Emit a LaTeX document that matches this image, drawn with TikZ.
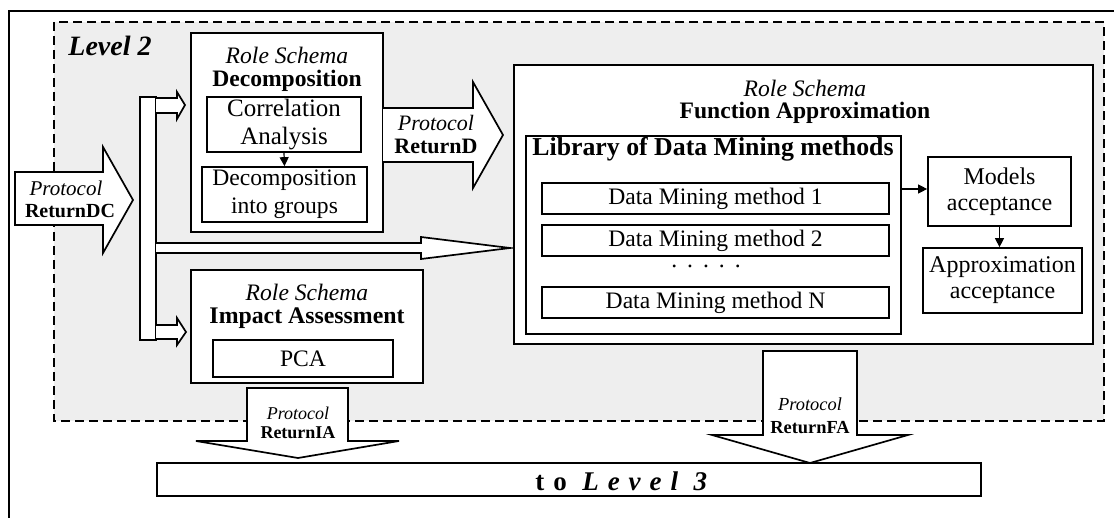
\documentclass[tikz,border=0pt]{standalone}
\usepackage{fontspec}
\setmainfont{Liberation Serif}
\usetikzlibrary{arrows.meta}
\definecolor{bggray}{RGB}{238,238,238}
\newcommand\myfs[2]{\fontsize{#1pt}{#2pt}\selectfont}
\begin{document}
\begin{tikzpicture}[x=0.5pt,y=-0.5pt,
  box/.style={draw, line width=0.85pt, fill=white, inner sep=0pt},
  blk/.style={draw, line width=0.85pt, fill=white, line join=miter},
  lbl/.style={inner sep=0pt, align=center},
  conn/.style={line width=0.6pt, -{Triangle[length=4.5pt,width=4.5pt]}}]
\useasboundingbox (0,0) rectangle (1114,518);
% outer frame (left and top visible)
\draw[line width=1.1pt] (9,519) -- (9,11) -- (1115,11);
% level 2 region
\draw[dashed, dash pattern=on 4.5pt off 2.5pt, line width=0.8pt, fill=bggray] (54,22) rectangle (1104,421);
\node[lbl, anchor=west, font=\myfs{14}{16}\bfseries\itshape] (lv2) at (68,46) {Level 2};

% ReturnDC block arrow
\draw[blk] (15,172) -- (103,172) -- (103,147) -- (133,200) -- (103,253) -- (103,225) -- (15,225) -- cycle;
\node[lbl, font=\myfs{10.5}{12}\itshape] (pdc) at (66,188) {Protocol};
\node[lbl, font=\myfs{10}{12}\bfseries] (rdc) at (70,211) {ReturnDC};

% distribution bar
\draw[blk] (140,97) rectangle (156,340);
\draw[blk] (156,98) -- (177,98) -- (177,92) -- (185,105) -- (177,119) -- (177,113) -- (156,113);
\draw[blk] (156,325) -- (177,325) -- (177,318) -- (186,332) -- (177,345) -- (177,339) -- (156,339);
\draw[blk] (156,243) -- (421,243) -- (421,237) -- (510,248) -- (421,259) -- (421,253) -- (156,253);

% Decomposition role schema
\node[box, minimum width=96pt, minimum height=99.5pt] (decomp) at (287,132.5) {};
\node[lbl, font=\myfs{11.8}{14}\itshape] (decrs) at (287,55) {Role Schema};
\node[lbl, font=\myfs{11.8}{14}\bfseries] (dect) at (287,81) {Decomposition};
\node[box, minimum width=77pt, minimum height=27.5pt, align=center, font=\myfs{12.5}{14}] (corr) at (284,124.5) {Correlation\\Analysis};
\node[box, minimum width=82.5pt, minimum height=27.5pt, align=center, font=\myfs{11.8}{14}] (dgr) at (284.5,194.5) {Decomposition\\into groups};
\draw[conn] (corr.south) -- (dgr.north);

% ReturnD block arrow
\draw[blk] (383,108) -- (473,108) -- (473,82) -- (503,135) -- (473,188) -- (473,162) -- (383,162);
\node[lbl, font=\myfs{11}{13}\itshape] (pd) at (436,123) {Protocol};
\node[lbl, font=\myfs{11}{13}\bfseries] (rd) at (436,146) {ReturnD};

% Impact assessment role schema
\node[box, minimum width=116pt, minimum height=56.5pt] (impact) at (307,326.5) {};
\node[lbl, font=\myfs{11.8}{14}\itshape] (imrs) at (307,292) {Role Schema};
\node[lbl, font=\myfs{11.9}{14}\bfseries] (imt) at (307,318) {Impact Assessment};
\node[box, minimum width=90pt, minimum height=18.5pt, font=\myfs{11.8}{14}] (pca) at (303,358.5) {PCA};

% Function approximation role schema
\node[box, minimum width=289.5pt, minimum height=139.5pt] (fa) at (803.5,204.5) {};
\node[lbl, font=\myfs{11.8}{14}\itshape] (fars) at (805,88) {Role Schema};
\node[lbl, font=\myfs{11.8}{14}\bfseries] (fat) at (805,113) {Function Approximation};
\node[box, minimum width=187.5pt, minimum height=99pt] (lib) at (713.5,235) {};
\node[lbl, font=\myfs{12.9}{15}\bfseries] (libt) at (713,149) {Library of Data Mining methods};
\node[box, minimum width=173.5pt, minimum height=15.5pt, font=\myfs{11.8}{14}] (m1) at (715.5,198.5) {Data Mining method 1};
\node[box, minimum width=173.5pt, minimum height=15.5pt, font=\myfs{11.8}{14}] (m2) at (715.5,240.5) {Data Mining method 2};
\node[lbl, font=\myfs{11.8}{14}] (dots) at (706,266) {.\hspace{5pt}.\hspace{5pt}.\hspace{5pt}.\hspace{5pt}.};
\node[box, minimum width=173.5pt, minimum height=15.5pt, font=\myfs{11.8}{14}] (mN) at (715.5,302.5) {Data Mining method N};
\node[box, minimum width=71.5pt, minimum height=34.5pt, align=center, font=\myfs{12}{13}] (models) at (999.5,191.5) {Models\\acceptance};
\node[box, minimum width=79.5pt, minimum height=32.5pt, align=center, font=\myfs{12}{13}] (approx) at (1002.5,280.5) {Approximation\\acceptance};
\draw[conn] (lib.east |- 0,189) -- (models.west |- 0,189);
\draw[conn] (models.south) -- (models.south |- approx.north);

% ReturnIA block arrow
\draw[blk] (247,388) -- (348,388) -- (348,441) -- (399,441) -- (298,458) -- (196,441) -- (247,441) -- cycle;
\node[lbl, font=\myfs{9}{11}\itshape] (pia) at (298,413) {Protocol};
\node[lbl, font=\myfs{9}{11}\bfseries] (ria) at (298,433) {ReturnIA};

% ReturnFA block arrow
\draw[blk] (763,351) -- (857,351) -- (857,435) -- (908,435) -- (810,463) -- (712,435) -- (763,435) -- cycle;
\node[lbl, font=\myfs{9.2}{11}\itshape] (pfa) at (810,404) {Protocol};
\node[lbl, font=\myfs{9.2}{11}\bfseries] (rfa) at (810,428) {ReturnFA};

% to level 3
\node[box, minimum width=412pt, minimum height=16.5pt] (lv3) at (569,479.5) {};
\node[lbl, anchor=west, font=\myfs{13.5}{15}\bfseries\addfontfeature{LetterSpace=33}] (lv3t) at (535,481) {to \textit{Level 3}};
\end{tikzpicture}
\end{document}
